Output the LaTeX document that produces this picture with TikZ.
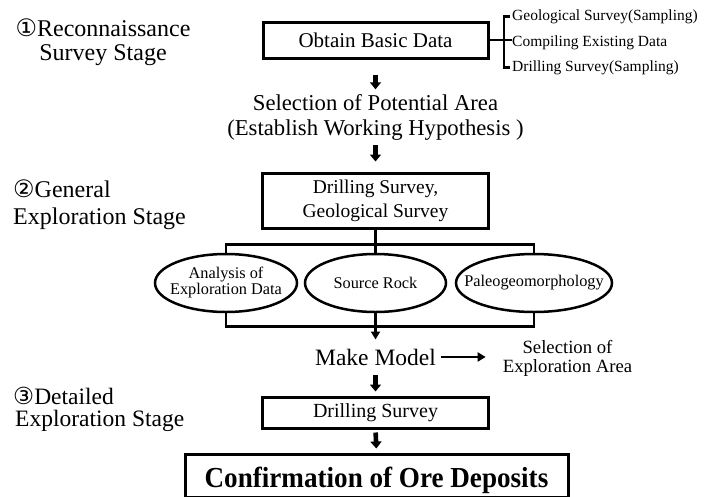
\documentclass[tikz,border=0pt]{standalone}
\usepackage{fontspec}
\setmainfont{Liberation Serif}
\newfontfamily\circfont{DejaVu Sans}
\usetikzlibrary{shapes.geometric,arrows.meta}
\newcommand{\setfs}[2]{\fontsize{#1}{#2}\selectfont}

\begin{document}
\begin{tikzpicture}[x=1pt,y=-1pt,
  box/.style={draw,line width=3pt,inner sep=0pt},
  oval/.style={draw,ellipse,line width=2.5pt,inner sep=0pt,minimum height=58pt,font=\setfs{16.3}{16}},
  txt/.style={inner sep=0pt},
  stage/.style={txt,font=\setfs{24}{24}},
  side/.style={txt,anchor=base west,font=\setfs{15.5}{16}},
  link/.style={line width=2.7pt},
  bigarrow/.style={line width=4.6pt,-{Triangle[length=7pt,width=11pt]}},
  thinarrow/.style={line width=2.5pt,-{Triangle[length=8pt,width=9pt]}},
]
\useasboundingbox[fill=white] (0,0) rectangle (712,496);

% stage captions on the left
\node[stage,anchor=base] (st1a) at (103,36) {{\circfont ①}Reconnaissance};
\node[stage,anchor=base] (st1b) at (103,60) {Survey Stage};
\node[stage,anchor=base west] (st2a) at (13,197) {{\circfont ②}General};
\node[stage,anchor=base west] (st2b) at (13,224) {Exploration Stage};
% two tightly set lines; the base anchor sits on the last line
\node[stage,align=left,anchor=base west,font=\setfs{23.5}{22}] (st3) at (13,426)
  {{\circfont ③}Detailed\\\hspace*{2pt}Exploration Stage};

% reconnaissance stage
\node[box,minimum width=225pt,minimum height=36pt,font=\setfs{21}{21}] (box1) at (375.5,40) {Obtain Basic Data};
\node[side] (g1) at (512,20) {Geological Survey(Sampling)};
\node[side] (g2) at (512,46) {Compiling Existing Data};
\node[side] (g3) at (512,71) {Drilling Survey(Sampling)};
\draw[link] (box1.east) -- (box1.east -| g2.west);
\draw[link] ([xshift=-2pt]g1.west) -| ([xshift=-8pt]g3.west) -- ([xshift=-2pt]g3.west);

\node[txt,anchor=base,font=\setfs{22.7}{23}] (sel1) at (375.5,110) {Selection of Potential Area};
\node[txt,anchor=base,font=\setfs{22.7}{23}] (sel2) at (375.5,135) {(Establish Working Hypothesis )};
\draw[bigarrow,shorten <=15pt,shorten >=4.5pt] (box1.south) -- (sel1.north);

% general exploration stage
\node[box,align=center,minimum width=226pt,minimum height=55pt,font=\setfs{19.5}{24}] (box2) at (375.5,200.5) {Drilling Survey,\\Geological Survey};
\draw[bigarrow,shorten <=5pt,shorten >=10pt] (sel2.south) -- (box2.north);

\node[oval,minimum width=142pt] (e1) at (226,283)
  {\makebox[0pt]{\begin{tabular}{@{}c@{}}Analysis of\\Exploration Data\end{tabular}}};
\node[oval,minimum width=141pt] (e2) at (375.5,283) {\makebox[0pt]{Source Rock}};
\node[oval,minimum width=156pt] (e3) at (534,283) {\makebox[0pt]{Paleogeomorphology}};

\draw[link] (box2.south) -- (e2.north);
\draw[link] (e1.north) -- ++(0,-8) -| (e3.north);
\draw[link] (e1.south) -- ++(0,13) -| (e3.south);

\node[txt,anchor=base,font=\setfs{23.5}{24}] (mm) at (375.5,365) {Make Model};
\draw[thinarrow,shorten >=9pt] (e2.south) -- (mm.north);

\node[txt,anchor=base,font=\setfs{18.7}{19}] (ex1) at (567.5,353) {Selection of};
\node[txt,anchor=base,font=\setfs{18.7}{19}] (ex2) at (567.5,372) {Exploration Area};
\draw[thinarrow,shorten <=5pt,shorten >=17pt] (mm.east) -- (mm.east -| ex2.west);

% detailed exploration stage
\node[box,minimum width=226pt,minimum height=31pt,font=\setfs{20}{20}] (box3) at (375.5,412.5) {Drilling Survey};
\draw[bigarrow,shorten <=10pt,shorten >=4pt] (mm.south) -- (box3.north);

\node[box,minimum width=383pt,minimum height=43pt,text height=23pt,text depth=0pt,font=\bfseries\setfs{29}{29}] (box4) at (376.5,475.5)
  {\scalebox{0.935}[1]{Confirmation of Ore Deposits}};
\draw[bigarrow,shorten <=3pt,shorten >=4pt] (box3.south) -- (box4.north);
\end{tikzpicture}
\end{document}
